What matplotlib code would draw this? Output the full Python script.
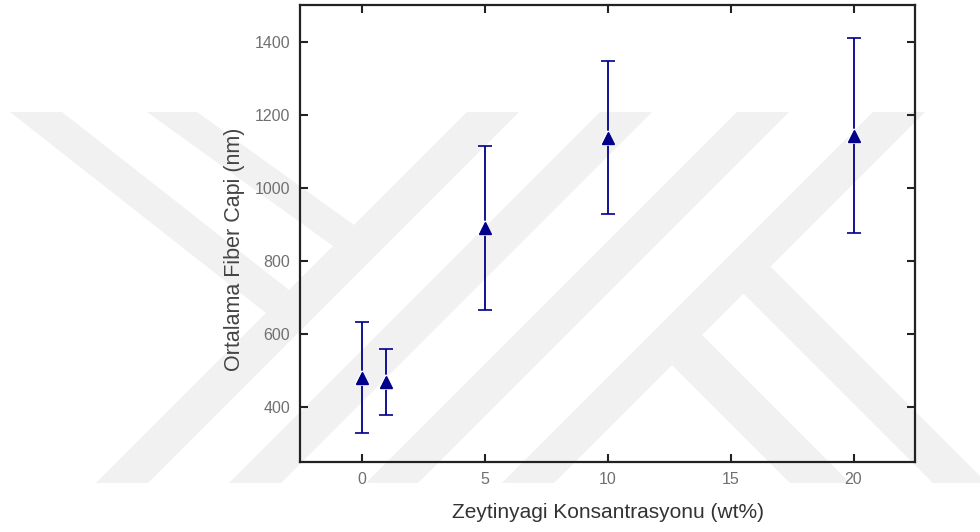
import matplotlib
matplotlib.use("Agg")
import matplotlib.pyplot as plt
from matplotlib.patches import Polygon
from matplotlib.transforms import Affine2D

# Data
concentration = [0, 1, 5, 10, 20]
mean_diameter = [480, 468, 890, 1137, 1142]
std_diameter = [152, 90, 225, 210, 267]
x_ticks = [0, 5, 10, 15, 20]
y_ticks = [400, 600, 800, 1000, 1200, 1400]

W, H = 980, 532
fig = plt.figure(figsize=(W / 100, H / 100), dpi=100)
fig.patch.set_facecolor("white")

# faint background watermark (pixel coords, y from top)
px = Affine2D().scale(1 / W, -1 / H).translate(0, 1) + fig.transFigure
wm_color = "#f1f1f1"
bands = []
for xb in [96, 229, 366, 502]:
    bands.append([(xb, 483), (xb + 52, 483), (xb + 52 + 371, 112), (xb + 371, 112)])
bands.append([(10, 112), (62, 112), (289, 290), (266, 313)])
bands.append([(147, 112), (197, 112), (354, 225), (333, 246)])
bands.append([(770, 266), (987, 483), (933, 483), (743, 293)])
bands.append([(702, 335), (850, 483), (790, 483), (672, 365)])
for b in bands:
    fig.add_artist(Polygon(b, closed=True, transform=px, facecolor=wm_color,
                           edgecolor="none", zorder=0))

ax = fig.add_axes([300 / W, (H - 462) / H, (915 - 300) / W, (462 - 5) / H])
ax.patch.set_alpha(0)
ax.set_zorder(1)

ax.errorbar(concentration, mean_diameter, yerr=std_diameter, fmt="^",
            color="#00008b", ecolor="#00008b", elinewidth=1.3, capsize=5,
            capthick=1.3, markersize=10, markeredgecolor="white",
            markeredgewidth=1.2, zorder=3)
ax.plot(concentration, mean_diameter, "^", color="#00008b", markersize=8,
        linestyle="none", zorder=4)

ax.set_xlim(-2.5, 22.5)
ax.set_ylim(250, 1500)
ax.set_xticks(x_ticks)
ax.set_yticks(y_ticks)

for s in ax.spines.values():
    s.set_linewidth(1.6)
    s.set_color("#222222")

ax.tick_params(axis="both", which="major", direction="in", length=6, width=1.5,
               color="#222222", top=True, right=True, labelsize=11.5,
               labelcolor="#707070", pad=7)
for lab in ax.get_xticklabels() + ax.get_yticklabels():
    lab.set_family("Liberation Sans")

ax.set_xlabel("Zeytinyagi Konsantrasyonu (wt%)", fontsize=15,
              family="Liberation Sans", color="#333333", labelpad=12)
ax.set_ylabel("Ortalama Fiber Capi (nm)", fontsize=15.5,
              family="Liberation Sans", color="#444444", labelpad=12)
ax.yaxis.set_label_coords(-0.09, 0.466)

fig.savefig("out.png", dpi=100)
